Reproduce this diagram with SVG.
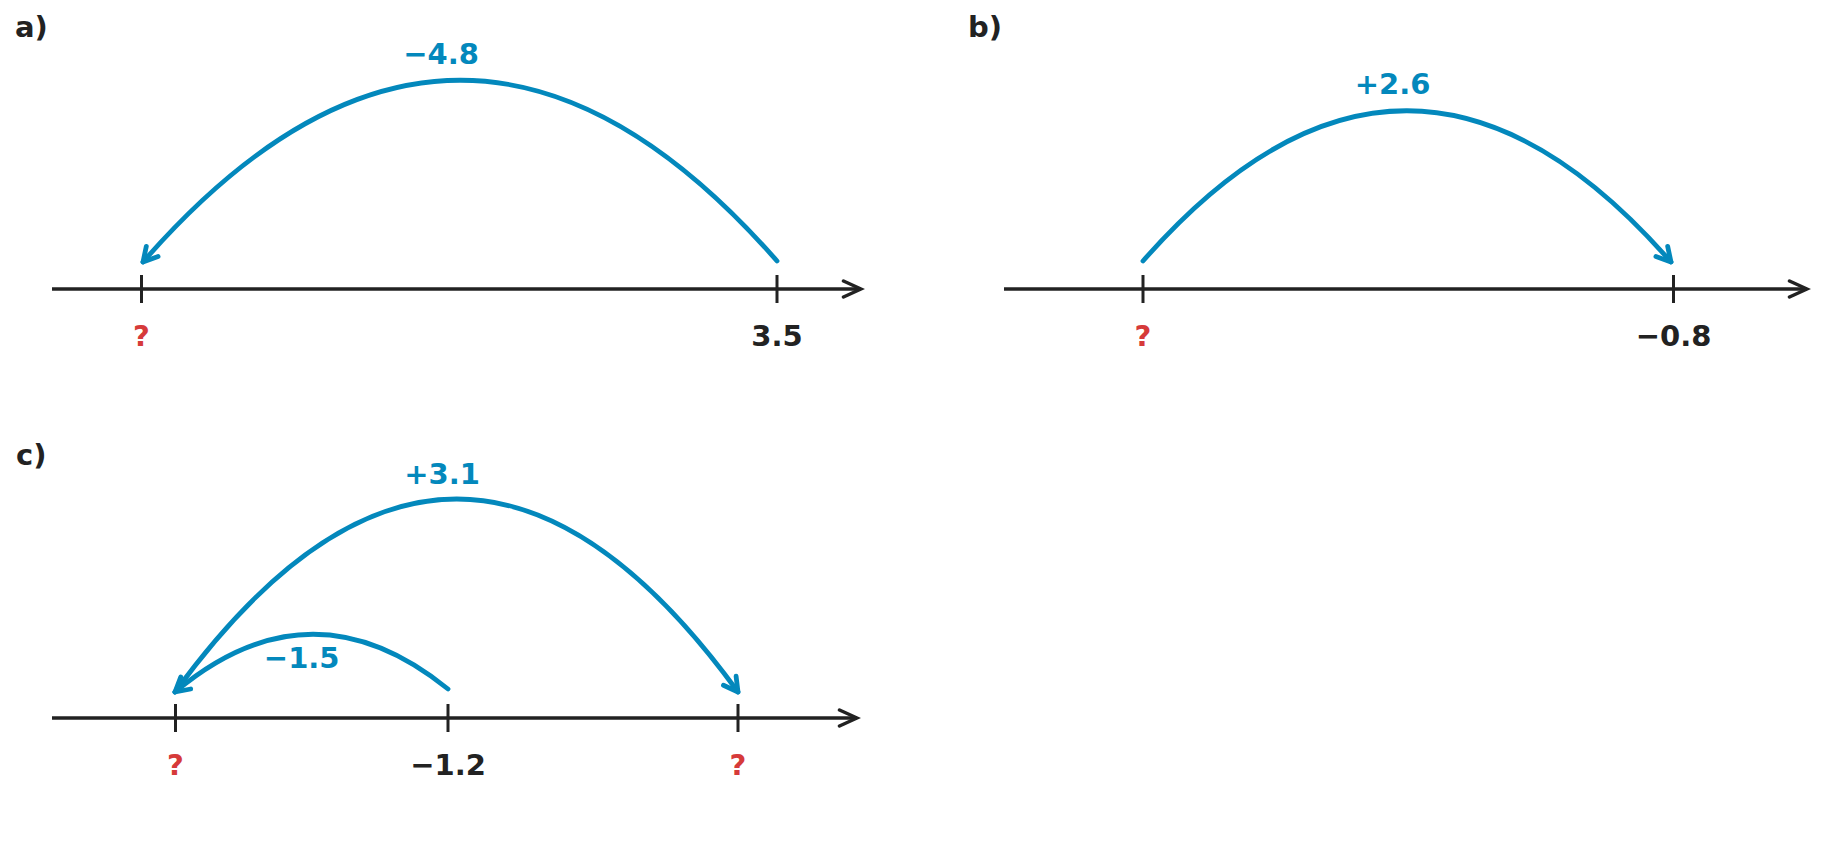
<svg xmlns="http://www.w3.org/2000/svg" width="1848" height="844" viewBox="0 0 1848 844">
  <style>
    .axis { fill: none; stroke: #222222; stroke-width: 3.5; stroke-linecap: butt; }
    .tick { fill: none; stroke: #222222; stroke-width: 3; }
    .arc { fill: none; stroke: #0388bc; stroke-width: 4.8; stroke-linecap: round; }
    .txt { font-family: "DejaVu Sans", "Liberation Sans", sans-serif; font-weight: bold; font-size: 29px; text-anchor: middle; }
    .panel { font-family: "DejaVu Sans", "Liberation Sans", sans-serif; font-weight: bold; font-size: 29px; fill: #222222; }
    .blue { fill: #0388bc; }
    .red { fill: #d63a3a; }
    .dark { fill: #222222; }
  </style>
  <defs>
    <marker id="ah" viewBox="-20 -12 26 24" markerWidth="26" markerHeight="24" refX="0" refY="0" orient="auto" markerUnits="userSpaceOnUse">
      <path d="M-14,-7.8 L0,0 L-14,7.8" fill="none" stroke="#0388bc" stroke-width="4.8" stroke-linecap="round" stroke-linejoin="round"/>
    </marker>
    <marker id="axah" viewBox="-22 -12 26 24" markerWidth="26" markerHeight="24" refX="0" refY="0" orient="auto" markerUnits="userSpaceOnUse">
      <path d="M-17.5,-8 L0,0 L-17.5,8" fill="none" stroke="#222222" stroke-width="3.5" stroke-linecap="round" stroke-linejoin="miter"/>
    </marker>
  </defs>
  <rect width="1848" height="844" fill="#ffffff"/>

  <!-- Panel a -->
  <g id="panel-a">
    <text class="panel" x="15" y="37">a)</text>
    <line class="axis" x1="52" y1="289" x2="861" y2="289" marker-end="url(#axah)"/>
    <g id="a-tick-q">
      <line class="tick" x1="141.5" y1="275" x2="141.5" y2="303"/>
      <text class="txt red" x="141.5" y="346">?</text>
    </g>
    <g id="a-tick-35">
      <line class="tick" x1="777" y1="275" x2="777" y2="303"/>
      <text class="txt dark" x="777" y="346">3.5</text>
    </g>
  </g>

  <!-- Panel b -->
  <g id="panel-b">
    <text class="panel" x="968" y="37">b)</text>
    <line class="axis" x1="1004" y1="289" x2="1807" y2="289" marker-end="url(#axah)"/>
    <g id="b-tick-q">
      <line class="tick" x1="1143" y1="275" x2="1143" y2="303"/>
      <text class="txt red" x="1143" y="346">?</text>
    </g>
    <g id="b-tick-08">
      <line class="tick" x1="1673.5" y1="275" x2="1673.5" y2="303"/>
      <text class="txt dark" x="1673.5" y="346">−0.8</text>
    </g>
  </g>

  <!-- Panel c -->
  <g id="panel-c">
    <text class="panel" x="16" y="465">c)</text>
    <line class="axis" x1="52" y1="718" x2="857" y2="718" marker-end="url(#axah)"/>
    <g id="c-tick-q1">
      <line class="tick" x1="175.5" y1="704" x2="175.5" y2="732"/>
      <text class="txt red" x="175.5" y="775">?</text>
    </g>
    <g id="c-tick-12">
      <line class="tick" x1="448" y1="704" x2="448" y2="732"/>
      <text class="txt dark" x="448" y="775">−1.2</text>
    </g>
    <g id="c-tick-q2">
      <line class="tick" x1="738" y1="704" x2="738" y2="732"/>
      <text class="txt red" x="738" y="775">?</text>
    </g>
  </g>

  <!-- Connectors (jumps) -->
  <g id="connectors">
    <path class="arc" d="M777,261 Q460,-101 143,262" marker-end="url(#ah)"/>
    <text class="txt blue" x="441" y="64">−4.8</text>

    <path class="arc" d="M1143,261 Q1407,-40 1671,262" marker-end="url(#ah)"/>
    <text class="txt blue" x="1392.5" y="94">+2.6</text>

    <path class="arc" d="M175,692 Q457,306 738,692" marker-end="url(#ah)"/>
    <text class="txt blue" x="442" y="484">+3.1</text>

    <path class="arc" d="M448,689 Q311,578 175,692" marker-end="url(#ah)"/>
    <text class="txt blue" x="301.7" y="667.5">−1.5</text>
  </g>
</svg>
